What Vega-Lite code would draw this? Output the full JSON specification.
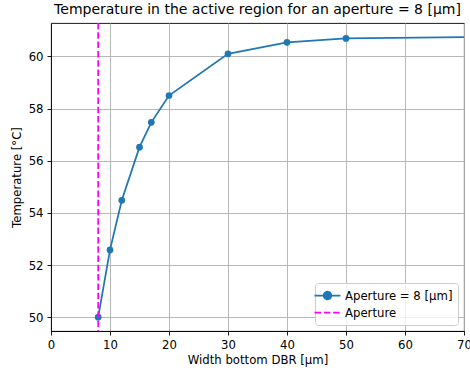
{
  "$schema": "https://vega.github.io/schema/vega-lite/v6.json",
  "width": 413,
  "height": 308,
  "autosize": {"type": "none"},
  "padding": {"left": 51, "top": 23, "right": 6, "bottom": 41},
  "background": "white",
  "title": {
    "text": "Temperature in the active region for an aperture = 8 [μm]",
    "font": "DejaVu Sans",
    "fontSize": 14,
    "fontWeight": "normal",
    "color": "black",
    "anchor": "middle",
    "offset": 5
  },
  "config": {
    "view": {"stroke": "black", "strokeWidth": 0.9},
    "axis": {
      "domainColor": "black",
      "domainWidth": 0.9,
      "tickColor": "black",
      "tickSize": 4,
      "tickWidth": 0.9,
      "labelPadding": 4,
      "labelFlush": false,
      "gridColor": "#b0b0b0",
      "gridWidth": 0.9,
      "labelFont": "DejaVu Sans",
      "labelFontSize": 11.7,
      "labelColor": "black",
      "titleFont": "DejaVu Sans",
      "titleFontSize": 11.7,
      "titleFontWeight": "normal",
      "titleColor": "black"
    },
    "legend": {
      "labelFont": "DejaVu Sans",
      "labelFontSize": 11.7,
      "labelColor": "black"
    }
  },
  "datasets": {
    "curve": [
      {"x": 8, "y": 50.0, "series": "Aperture = 8 [μm]"},
      {"x": 10, "y": 52.58, "series": "Aperture = 8 [μm]"},
      {"x": 12, "y": 54.48, "series": "Aperture = 8 [μm]"},
      {"x": 15, "y": 56.52, "series": "Aperture = 8 [μm]"},
      {"x": 17, "y": 57.47, "series": "Aperture = 8 [μm]"},
      {"x": 20, "y": 58.5, "series": "Aperture = 8 [μm]"},
      {"x": 30, "y": 60.1, "series": "Aperture = 8 [μm]"},
      {"x": 40, "y": 60.54, "series": "Aperture = 8 [μm]"},
      {"x": 50, "y": 60.69, "series": "Aperture = 8 [μm]"},
      {"x": 100, "y": 60.8, "series": "Aperture = 8 [μm]"}
    ],
    "aperture": [{"x": 8, "series": "Aperture"}]
  },
  "layer": [
    {
      "data": {"name": "curve"},
      "mark": {"type": "line", "clip": true, "strokeWidth": 1.75},
      "encoding": {
        "x": {"field": "x", "type": "quantitative", "scale": {"domain": [0, 70], "nice": false},
              "axis": {"values": [0, 10, 20, 30, 40, 50, 60, 70], "title": "Width bottom DBR [μm]", "titlePadding": 4}},
        "y": {"field": "y", "type": "quantitative", "scale": {"domain": [49.47, 61.28], "nice": false, "zero": false},
              "axis": {"values": [50, 52, 54, 56, 58, 60], "title": "Temperature [°C]", "titlePadding": 6}},
        "color": {
          "field": "series", "type": "nominal",
          "scale": {"domain": ["Aperture = 8 [μm]", "Aperture"], "range": ["#1f77b4", "#ff00ff"]},
          "legend": {
            "title": null,
            "orient": "bottom-right",
            "offset": 6,
            "padding": 5,
            "labelOffset": 10,
            "rowPadding": 2,
            "symbolSize": 169,
            "symbolStrokeWidth": 1.75,
            "fillColor": "rgba(255,255,255,0.8)",
            "strokeColor": "#cccccc",
            "cornerRadius": 3,
            "encode": {
              "symbols": {
                "update": {
                  "shape": {"signal": "datum.value === 'Aperture' ? 'M-2,0H2' : 'M-2,0H2M0.58,0A0.58,0.58 0 1,1 -0.58,0A0.58,0.58 0 1,1 0.58,0Z'"},
                  "fill": {"signal": "datum.value === 'Aperture' ? 'transparent' : '#1f77b4'"},
                  "stroke": {"signal": "datum.value === 'Aperture' ? '#ff00ff' : '#1f77b4'"},
                  "strokeDash": {"signal": "datum.value === 'Aperture' ? [6.5, 2.8] : [1, 0]"},
                  "strokeWidth": {"value": 1.75},
                  "size": {"value": 169},
                  "opacity": {"value": 1}
                }
              }
            }
          }
        }
      }
    },
    {
      "data": {"name": "curve"},
      "mark": {"type": "point", "filled": true, "opacity": 1, "size": 45, "clip": true},
      "encoding": {
        "x": {"field": "x", "type": "quantitative"},
        "y": {"field": "y", "type": "quantitative"},
        "color": {"field": "series", "type": "nominal"}
      }
    },
    {
      "data": {"name": "aperture"},
      "mark": {"type": "rule", "strokeDash": [6.5, 2.8], "strokeWidth": 1.75},
      "encoding": {
        "x": {"field": "x", "type": "quantitative"},
        "color": {"field": "series", "type": "nominal"}
      }
    }
  ]
}
